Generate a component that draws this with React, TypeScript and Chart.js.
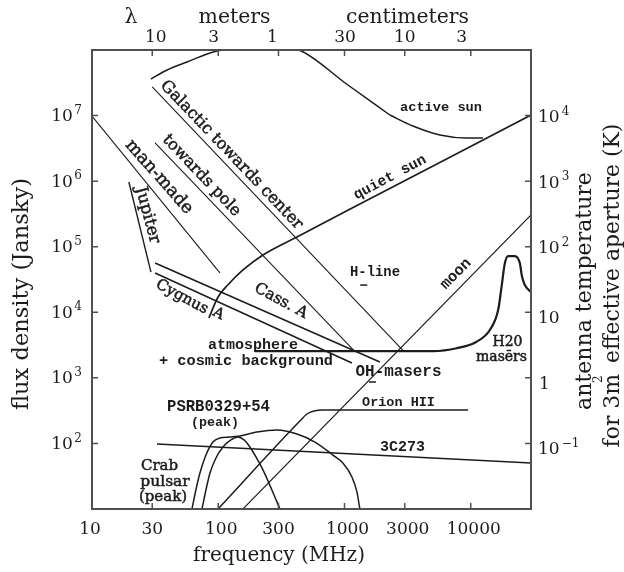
import React, { useEffect, useRef } from "react";
import { Chart, registerables } from "chart.js";

Chart.register(...registerables);

// ---------- data: frequency (MHz) and flux density (Jansky) ----------
const galCenterFreq = [30, 2940];
const galCenterFlux = [2.73e7, 2560];
const galPoleFreq = [31.6, 1200];
const galPoleFlux = [3.82e6, 2560];
const manMadeFreq = [10, 103];
const manMadeFlux = [9.8e6, 4.0e4];
const jupiterFreq = [19.6, 29.3];
const jupiterFlux = [9.7e5, 4.1e4];
const cassAFreq = [31.6, 1905];
const cassAFlux = [56500, 1746];
const cygnusAFreq = [31.6, 1145];
const cygnusAFlux = [39700, 1687];
const quietSunFreq = [84.3, 99.6, 119, 157, 226, 420, 1324, 30000];
const quietSunFlux = [8180, 17100, 26100, 44200, 74800, 141000, 448000, 1.02e7];
const activeSunFreqA = [29.3, 39.3, 56.5, 81.5, 97.7, 141, 247, 435, 1037, 2286];
const activeSunFluxA = [3.61e7, 4.95e7, 6.56e7, 8.69e7, 9.66e7, 1.02e8, 1.15e8, 1.0e8, 3.03e7, 1.02e7];
const activeSunFreqB = [2286, 3480, 5690, 9300, 12470];
const activeSunFluxB = [1.02e7, 6.93e6, 5.06e6, 4.55e6, 4.55e6];
const atmosphereFreq = [195, 5035, 7730, 11120, 14160, 16480, 17540, 18620, 19770, 22340, 24490, 25410, 26790, 30000];
const atmosphereFlux = [2560, 2560, 2830, 3560, 5370, 10800, 24500, 55800, 72100, 72100, 55800, 35700, 26100, 20400];
const moonFreq = [157, 30000];
const moonFlux = [10, 3.05e5];
const orionFreq = [99.5, 443, 504, 573, 674, 9500];
const orionFlux = [10, 220, 281, 312, 324, 324];
const q3c273Freq = [32.7, 30000];
const q3c273Flux = [97.9, 50.2];
const psrB0329Freq = [61.9, 66.5, 71.6, 79.9, 90.8, 103, 124, 148.6, 202, 291.5, 420, 583, 810, 971, 1145, 1254, 1324];
const psrB0329Flux = [10, 19.5, 35.4, 66.5, 105, 121, 125, 130, 149, 160, 139, 105, 66.5, 50.2, 30.8, 18.2, 10];
const crabFreq = [74.3, 79.9, 86, 95.9, 109, 126, 143, 160, 178, 199, 226, 266, 308];
const crabFlux = [10, 19.5, 35.4, 60, 88.1, 113, 125, 113, 88.1, 62.1, 39.4, 19.5, 10];
const lineMarkFreq = [1420, 1665];
const lineMarkFlux = [26000, 865];

// ---------- axes ----------
const freqTicks = [10, 30, 100, 300, 1000, 3000, 10000];
const freqTickLabels = ["10", "30", "100", "300", "1000", "3000", "10000"];
const lambdaTicks = [10, 3, 1, 0.3, 0.1, 0.03]; // metres
const lambdaTickLabels = ["10", "3", "1", "30", "10", "3"];
const fluxExponents = [2, 3, 4, 5, 6, 7];
const tempExponents = [-1, 0, 1, 2, 3, 4];

const SERIF = '"DejaVu Serif", "Liberation Serif", serif';
const MONO = '"Liberation Mono", "DejaVu Sans Mono", monospace';
const INK = "#1c1c1c";

// text annotations: [text, cx, cy, angleDeg, width, fixedSize]
type Lab = [string, number, number, number, number, number?];
const serifLabels: Lab[] = [
  ["Galactic towards center", 231.5, 155, 46.4, 199],
  ["towards pole", 201.5, 175.5, 46.5, 106],
  ["man-made", 159, 177, 48.5, 93],
  ["Jupiter", 147.5, 215, 75, 58],
  ["Cygnus", 182, 297, 28, 57],
  ["A", 218.5, 314, 28, 0, 14.5],
  ["Cass. A", 281, 301, 28.5, 58],
  ["Crab", 159.5, 466, 0, 0, 15],
  ["pulsar", 165, 482, 0, 0, 15.5],
  ["(peak)", 163, 497, 0, 0, 15],
  ["H20", 507.5, 342, 0, 0, 14],
  ["masērs", 501.5, 357, 0, 0, 14],
];
const monoLabels: Lab[] = [
  ["active sun", 441, 108, 0, 82],
  ["quiet sun", 390, 177.5, -28, 80],
  ["H-line", 375, 272, 0, 50],
  ["moon", 456, 274, -45, 37],
  ["atmosphere", 253, 345, 0, 90],
  ["+ cosmic background", 246, 361, 0, 174],
  ["OH-masers", 398.5, 372, 0, 86],
  ["Orion HII", 398.5, 403, 0, 73],
  ["3C273", 402.5, 447, 0, 45],
  ["PSRB0329+54", 218.5, 407, 0, 103],
  ["(peak)", 215, 423, 0, 48],
];

function pts(f: number[], s: number[]) {
  return f.map((v, i) => ({ x: v, y: s[i] }));
}

function curve(f: number[], s: number[], width: number, smooth = false) {
  return {
    data: pts(f, s),
    showLine: true,
    borderColor: INK,
    borderWidth: width,
    pointRadius: 0,
    pointHoverRadius: 0,
    fill: false,
    tension: 0,
    capBezierPoints: false,
    cubicInterpolationMode: smooth ? "monotone" : "default",
  };
}

function fit(ctx: CanvasRenderingContext2D, text: string, family: string, weight: string, target: number) {
  ctx.font = `${weight} 20px ${family}`;
  const w = ctx.measureText(text).width;
  return (20 * target) / w;
}

function drawLabel(
  ctx: CanvasRenderingContext2D, text: string, cx: number, cy: number, ang: number,
  width: number, family: string, weight: string, fixed?: number, stroke = 0
) {
  const size = fixed ? fixed : fit(ctx, text, family, weight, width);
  ctx.save();
  ctx.translate(cx, cy);
  ctx.rotate((ang * Math.PI) / 180);
  ctx.font = `${weight} ${size}px ${family}`;
  ctx.textAlign = "center";
  ctx.textBaseline = "middle";
  ctx.fillText(text, 0, 0);
  if (stroke > 0) {
    ctx.lineWidth = stroke;
    ctx.strokeStyle = INK;
    ctx.strokeText(text, 0, 0);
  }
  ctx.restore();
}

const decorate = {
  id: "decorate",
  afterDatasetsDraw(chart: any) {
    const ctx: CanvasRenderingContext2D = chart.ctx;
    const { left, right, top, bottom } = chart.chartArea;
    const xs = chart.scales.x, ys = chart.scales.y, x2 = chart.scales.x2, y2 = chart.scales.y2;
    ctx.save();
    // frame
    ctx.strokeStyle = "#505050";
    ctx.lineWidth = 2;
    ctx.strokeRect(left, top, right - left, bottom - top);
    // inward ticks
    ctx.lineWidth = 1.5;
    ctx.beginPath();
    freqTicks.forEach((v) => {
      const px = xs.getPixelForValue(v);
      ctx.moveTo(px, bottom); ctx.lineTo(px, bottom - 6);
    });
    lambdaTicks.forEach((v) => {
      const px = x2.getPixelForValue(v);
      ctx.moveTo(px, top); ctx.lineTo(px, top + 6);
    });
    fluxExponents.forEach((e) => {
      const py = ys.getPixelForValue(Math.pow(10, e));
      ctx.moveTo(left, py); ctx.lineTo(left + 6, py);
    });
    tempExponents.forEach((e) => {
      const py = y2.getPixelForValue(Math.pow(10, e));
      ctx.moveTo(right, py); ctx.lineTo(right - 6, py);
    });
    ctx.stroke();

    ctx.fillStyle = INK;
    ctx.textBaseline = "middle";
    const base = `17px ${SERIF}`;
    const sup = `12px ${SERIF}`;

    // bottom labels
    const botOff = [-2, 0, 3, 0, 3, 3, 3];
    ctx.font = base;
    ctx.textAlign = "center";
    freqTicks.forEach((v, i) => {
      ctx.fillText(freqTickLabels[i], xs.getPixelForValue(v) + botOff[i], 530);
    });
    // top labels (wavelength)
    const topOff = [3.5, -4.5, -6, 0.5, 0, -9];
    lambdaTicks.forEach((v, i) => {
      ctx.fillText(lambdaTickLabels[i], x2.getPixelForValue(v) + topOff[i], 38);
    });
    // wavelength unit row
    drawLabel(ctx, "λ", 131, 18, 0, 13, SERIF, "normal");
    drawLabel(ctx, "meters", 234.5, 18, 0, 72, SERIF, "normal");
    drawLabel(ctx, "centimeters", 407.5, 18, 0, 123, SERIF, "normal");

    // left labels 10^n
    fluxExponents.forEach((e) => {
      const py = ys.getPixelForValue(Math.pow(10, e));
      ctx.font = sup;
      const sw = ctx.measureText(String(e)).width;
      ctx.textAlign = "right";
      ctx.fillText(String(e), 82, py - 5);
      ctx.font = base;
      ctx.fillText("10", 82 - sw - 1.5, py + 1);
    });
    // right labels (antenna temperature)
    tempExponents.forEach((e) => {
      const py = y2.getPixelForValue(Math.pow(10, e));
      ctx.textAlign = "left";
      ctx.font = base;
      if (e === 0) {
        ctx.fillText("1", 539, py + 7);
      } else if (e === 1) {
        ctx.fillText("10", 538, py + 6);
      } else {
        const by = e < 0 ? py + 6 : py + 2;
        ctx.fillText("10", 538, by);
        const w = ctx.measureText("10").width;
        ctx.font = sup;
        ctx.fillText(e < 0 ? "\u2212" + String(-e) : String(e), 538 + w + 2, by - 6);
      }
    });

    // axis titles
    drawLabel(ctx, "frequency (MHz)", 279, 556, 0, 172, SERIF, "normal");
    drawLabel(ctx, "flux density (Jansky)", 22, 294, -90, 232, SERIF, "normal");
    drawLabel(ctx, "antenna temperature", 585, 291, -90, 238, SERIF, "normal");
    {
      // "for 3m² effective aperture (K)"
      const p1 = "for 3m", p2 = "2", p3 = " effective aperture (K)";
      ctx.font = `20px ${SERIF}`;
      const w1 = ctx.measureText(p1).width, w3 = ctx.measureText(p3).width;
      const s = (320 / (w1 + w3)) * 20;
      ctx.save();
      ctx.translate(613, 285.5);
      ctx.rotate(-Math.PI / 2);
      ctx.textAlign = "left";
      ctx.textBaseline = "middle";
      ctx.font = `${s}px ${SERIF}`;
      const a1 = ctx.measureText(p1).width, a3 = ctx.measureText(p3).width;
      const total = a1 + a3 + 4;
      let x = -total / 2;
      ctx.fillText(p1, x, 0);
      x += a1;
      ctx.font = `12px ${SERIF}`;
      ctx.fillText(p2, x - 9, -14);
      x += 4;
      ctx.font = `${s}px ${SERIF}`;
      ctx.fillText(p3, x, 0);
      ctx.restore();
    }

    // in-plot annotations
    serifLabels.forEach(([t, cx, cy, a, w, fz]) => drawLabel(ctx, t, cx, cy, a, w, SERIF, "normal", fz, 0.5));
    monoLabels.forEach(([t, cx, cy, a, w, fz]) => drawLabel(ctx, t, cx, cy, a, w, MONO, "bold", fz));
    ctx.restore();
  },
};

export default function App() {
  const ref = useRef<HTMLCanvasElement | null>(null);
  useEffect(() => {
    if (!ref.current) return;
    const chart = new Chart(ref.current, {
      type: "scatter",
      data: {
        datasets: [
          curve(galCenterFreq, galCenterFlux, 1.1),
          curve(galPoleFreq, galPoleFlux, 1.1),
          curve(manMadeFreq, manMadeFlux, 1.1),
          curve(jupiterFreq, jupiterFlux, 1.4),
          curve(cassAFreq, cassAFlux, 1.5),
          curve(cygnusAFreq, cygnusAFlux, 1.5),
          curve(quietSunFreq, quietSunFlux, 1.7, true),
          curve(activeSunFreqA, activeSunFluxA, 1.5, true),
          curve(activeSunFreqB, activeSunFluxB, 1.5, true),
          curve(atmosphereFreq, atmosphereFlux, 2.2, true),
          curve(moonFreq, moonFlux, 1.1),
          curve(orionFreq, orionFlux, 1.5, true),
          curve(q3c273Freq, q3c273Flux, 1.5),
          curve(psrB0329Freq, psrB0329Flux, 1.5, true),
          curve(crabFreq, crabFlux, 1.5, true),
          {
            data: pts(lineMarkFreq, lineMarkFlux),
            showLine: false,
            pointStyle: "line",
            pointRadius: 3.5,
            pointBorderWidth: 1.5,
            pointBorderColor: INK,
            pointBackgroundColor: INK,
          },
        ] as any,
      },
      options: {
        animation: false,
        responsive: false,
        devicePixelRatio: 1,
        events: [],
        layout: { padding: { left: 92, right: 93, top: 50, bottom: 63 } },
        plugins: {
          legend: { display: false },
          tooltip: { enabled: false },
          title: { display: false },
        },
        scales: {
          x: { type: "logarithmic", min: 10, max: 30000, display: false },
          y: { type: "logarithmic", min: 10, max: 1e8, display: false },
          x2: { type: "logarithmic", axis: "x", position: "top", min: 0.01, max: 30, reverse: true, display: false },
          y2: { type: "logarithmic", axis: "y", position: "right", min: 0.01, max: 1e5, display: false },
        } as any,
      },
      plugins: [decorate],
    });
    return () => chart.destroy();
  }, []);
  return (
    <div style={{ position: "absolute", left: 0, top: 0, width: 624, height: 572, background: "#fff" }}>
      <canvas ref={ref} width={624} height={572} style={{ display: "block" }} />
    </div>
  );
}
